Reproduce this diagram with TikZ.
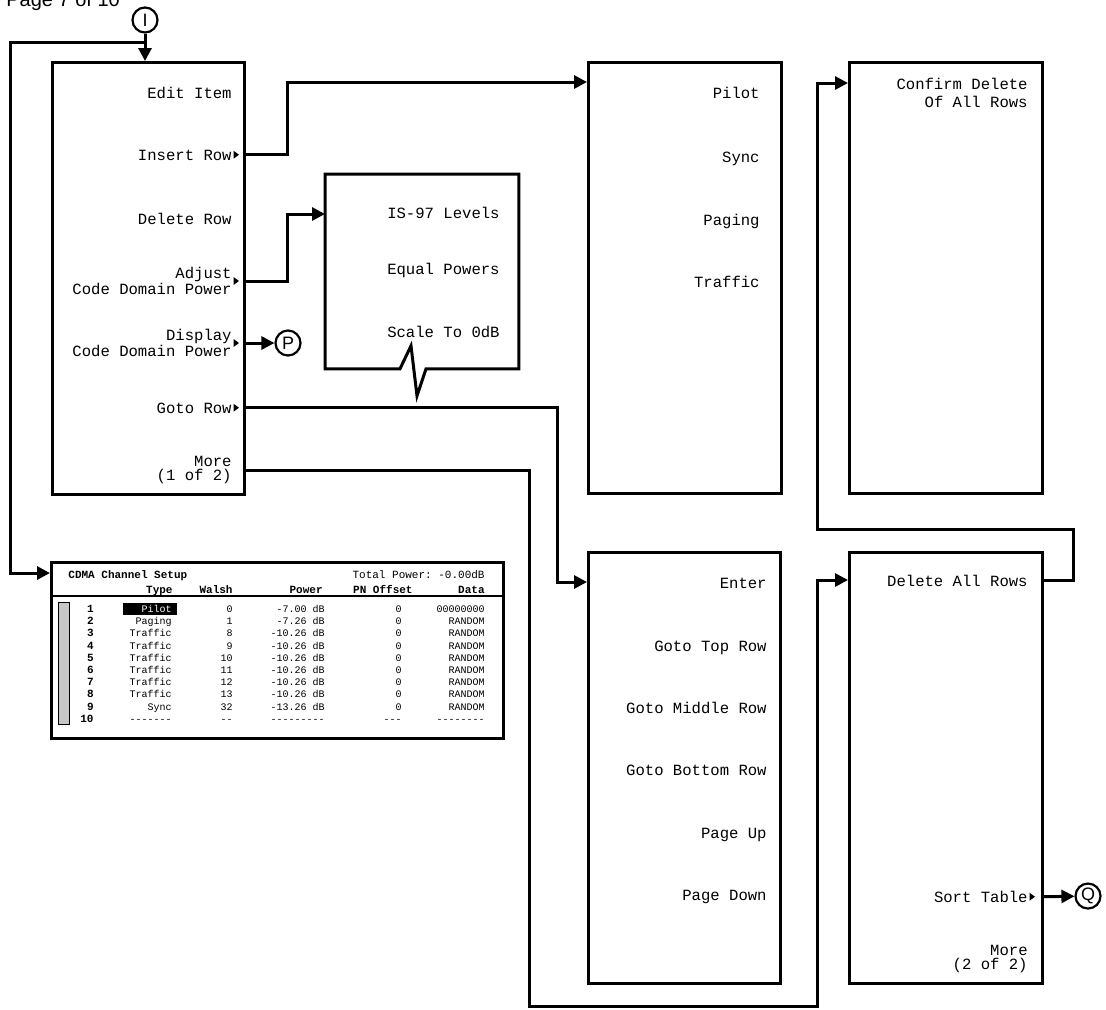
\documentclass[tikz,border=0pt]{standalone}
\usepackage{fontspec}
\setmainfont{Liberation Sans}
\setmonofont{Liberation Mono}
\usetikzlibrary{arrows.meta,calc}

\newcommand\subkey[1]{\fill ($(#1)+(1.5,-4)$) -- ++(5.5,4) -- ++(-5.5,4) -- cycle;}

\begin{document}
\begin{tikzpicture}[x=0.5pt,y=-0.5pt,
  menu/.style={draw,line width=1.5pt,inner sep=0pt,anchor=north west},
  soft/.style={anchor=base east,inner sep=0pt,font=\ttfamily\fontsize{7.8}{7}\selectfont},
  softtwo/.style={soft,anchor=east,align=right},
  conn/.style={line width=1.5pt},
  arr/.style={conn,-{Triangle[length=6.5pt,width=6.5pt]}},
  lnk/.style={draw,circle,line width=1.1pt,minimum size=12.5pt,inner sep=0pt,font=\fontsize{9}{9}\selectfont},
  cell/.style={anchor=base east,inner sep=0pt,font=\ttfamily\fontsize{5}{5}\selectfont},
  head/.style={cell,font=\ttfamily\bfseries\fontsize{5.5}{5.5}\selectfont}]
\useasboundingbox (0,0) rectangle (1106,1009);

\node[anchor=base west,inner sep=0pt,font=\fontsize{10}{10}\selectfont] (page) at (6,6) {Page 7 of 10};

% menu boxes
\node[menu,minimum width=96pt,minimum height=216pt] (m1) at (51,61) {};
\node[menu,minimum width=96.5pt,minimum height=215.5pt] (b2) at (587,61) {};
\node[menu,minimum width=96.5pt,minimum height=215.5pt] (b5) at (848,61) {};
\node[menu,minimum width=96pt,minimum height=215.5pt] (b3) at (587,551) {};
\node[menu,minimum width=96.5pt,minimum height=215.5pt] (b4) at (848,551) {};
\node[inner sep=0pt,anchor=north west,minimum width=96.5pt,minimum height=97pt] (zb) at (325,174) {};
\draw[conn] (zb.south west) -- (zb.north west) -- (zb.north east) -- (zb.south east)
  -- ($(zb.south west)+(101,0)$) -- ($(zb.south west)+(92,27)$)
  -- ($(zb.south west)+(86,-23)$) -- ($(zb.south west)+(75,0)$) -- cycle;

% first menu
\node[soft] (edit) at (232,98) {Edit Item};
\node[soft] (ins) at (232,160) {Insert Row};
\node[soft] (delrow) at (232,224) {Delete Row};
\node[softtwo] (adj) at (232,281) {Adjust\\Code Domain Power};
\node[softtwo] (disp) at (232,343) {Display\\Code Domain Power};
\node[soft] (goto) at (232,413) {Goto Row};
\node[softtwo] (more) at (232,470) {More\\(1 of 2)};
\subkey{ins.mid east} \subkey{adj.east} \subkey{disp.east} \subkey{goto.mid east}

% insert row
\node[soft] (pilot) at (760,98) {Pilot};
\node[soft] (sync) at (760,162) {Sync};
\node[soft] (paging) at (760,225) {Paging};
\node[soft] (traffic) at (760,287) {Traffic};

% adjust
\node[soft] (is97) at (500,218) {IS-97 Levels};
\node[soft] (equal) at (500,274) {Equal Powers};
\node[soft] (scale) at (500,337) {Scale To 0dB};

% goto row
\node[soft] (enter) at (767,588) {Enter};
\node[soft] (top) at (767,651) {Goto Top Row};
\node[soft] (middle) at (767,713) {Goto Middle Row};
\node[soft] (bottom) at (767,775) {Goto Bottom Row};
\node[soft] (pgup) at (767,838) {Page Up};
\node[soft] (pgdn) at (767,900) {Page Down};

% more 2 of 2
\node[soft] (delall) at (1028,586) {Delete All Rows};
\node[soft] (sort) at (1028,902) {Sort Table};
\node[softtwo] (more2) at (1028,959) {More\\(2 of 2)};
\subkey{sort.mid east}
\node[softtwo,font=\ttfamily\fontsize{7.8}{9}\selectfont] (confirm) at (1028,93) {Confirm Delete\\Of All Rows};

% links
\node[lnk] (I) at (145,20) {I};
\node[lnk] (P) at (288,343) {P};
\node[lnk] (Q) at (1088,896) {Q};

% table
\node[draw,line width=1.4pt,inner sep=0pt,anchor=north west,minimum width=226pt,minimum height=88pt] (tab) at (50,561) {};
\draw[line width=0.8pt] (tab.west |- 0,596) -- (tab.east |- 0,596);
\draw[line width=0.5pt,fill=gray!45] (58,602) rectangle (69,724);
\node[head,anchor=base west] (title) at (68,578) {CDMA Channel Setup};
\node[cell,font=\ttfamily\fontsize{5.5}{5.5}\selectfont] (total) at (485,578) {Total Power: -0.00dB};
\node[head] (htype) at (173,593) {Type};
\node[head] (hwalsh) at (233,593) {Walsh};
\node[head] (hpower) at (323,593) {Power};
\node[head] (hpn) at (413,593) {PN Offset};
\node[head] (hdata) at (485,593) {Data};
\fill (123,603) rectangle (177,615);
\node[head] (n1) at (94,612.5) {1};
\node[cell,text=white] (t1) at (172,612.5) {Pilot};
\node[cell] (w1) at (233,612.5) {0};
\node[cell] (p1) at (325,612.5) {-7.00 dB};
\node[cell] (o1) at (402,612.5) {0};
\node[cell] (d1) at (485,612.5) {00000000};
\foreach \n/\ty/\w/\p/\o/\d [count=\i] in {2/Paging/1/-7.26 dB/0/RANDOM,
  3/Traffic/8/-10.26 dB/0/RANDOM, 4/Traffic/9/-10.26 dB/0/RANDOM,
  5/Traffic/10/-10.26 dB/0/RANDOM, 6/Traffic/11/-10.26 dB/0/RANDOM,
  7/Traffic/12/-10.26 dB/0/RANDOM, 8/Traffic/13/-10.26 dB/0/RANDOM,
  9/Sync/32/-13.26 dB/0/RANDOM, 10/-------/--/---------/---/--------} {
  \pgfmathsetmacro\ry{612.5+12.2*\i}
  \node[head] (n\n) at (94,\ry) {\n};
  \node[cell] (t\n) at (172,\ry) {\ty};
  \node[cell] (w\n) at (233,\ry) {\w};
  \node[cell] (p\n) at (325,\ry) {\p};
  \node[cell] (o\n) at (402,\ry) {\o};
  \node[cell] (d\n) at (485,\ry) {\d};
}

% connectors
\coordinate (fork) at (I |- 0,42);
\draw[arr] (I) -- (I |- m1.north);
\draw[arr] (fork) -| (10,573) -- (tab.west |- 0,573);
\draw[arr] (m1.east |- ins.mid) -| (287,82) -- (b2.west |- 0,82);
\draw[arr] (m1.east |- adj) -| (287,214) -- (zb.west |- 0,214);
\draw[arr] (m1.east |- disp) -- (P);
\draw[arr] (m1.east |- goto.mid) -| (557,582) -- (b3.west |- 0,582);
\draw[arr] (m1.east |- more) -| (529,1006) -| (817,580) -- (b4.west |- 0,580);
\draw[arr] (b4.east |- delall.mid) -| (1073,529) -| (817,83) -- (b5.west |- 0,83);
\draw[arr] (b4.east |- sort.mid) -- (Q);
\end{tikzpicture}
\end{document}
